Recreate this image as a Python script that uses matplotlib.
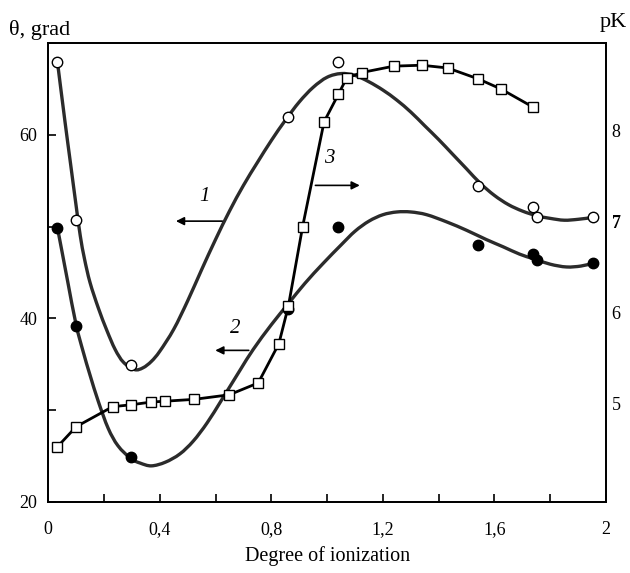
import matplotlib.pyplot as plt
from matplotlib.patches import PathPatch
from matplotlib.path import Path
from matplotlib.ticker import MultipleLocator

plt.rcParams["font.family"] = ["Liberation Serif", "DejaVu Serif"]

# curve 1: contact angle (open circles), left axis
theta1_x = [0.033, 0.10, 0.296, 0.861, 1.040, 1.542, 1.739, 1.753, 1.952]
theta1_y = [68.0, 50.7, 34.9, 62.0, 68.0, 54.4, 52.1, 51.0, 51.0]
# trend line of curve 1
trend1_x = [0.033, 0.06, 0.08, 0.10, 0.115, 0.13, 0.15, 0.18, 0.21, 0.24,
            0.27, 0.31, 0.34, 0.37, 0.40, 0.45, 0.50, 0.55, 0.60, 0.65,
            0.70, 0.75, 0.80, 0.85, 0.90, 0.95, 1.00, 1.05, 1.10, 1.15,
            1.20, 1.25, 1.30, 1.35, 1.40, 1.45, 1.50, 1.55, 1.60, 1.65,
            1.70, 1.75, 1.80, 1.85, 1.90, 1.952]
trend1_y = [68.0, 61.5, 56.9, 52.3, 49.0, 46.5, 43.9, 41.1, 38.7, 36.6,
            35.2, 34.4, 34.6, 35.3, 36.4, 38.8, 41.9, 45.3, 48.6, 51.7,
            54.5, 57.0, 59.4, 61.6, 63.6, 65.2, 66.3, 66.7, 66.5, 65.8,
            64.9, 63.8, 62.5, 61.0, 59.5, 57.9, 56.3, 54.7, 53.4, 52.4,
            51.7, 51.2, 50.9, 50.7, 50.8, 51.0]

# curve 2: contact angle (filled circles), left axis
theta2_x = [0.033, 0.10, 0.296, 0.861, 1.040, 1.542, 1.739, 1.753, 1.952]
theta2_y = [49.9, 39.2, 24.9, 41.0, 50.0, 48.0, 47.0, 46.4, 46.0]
trend2_x = [0.033, 0.05, 0.07, 0.10, 0.125, 0.15, 0.18, 0.215, 0.25, 0.296,
            0.33, 0.37, 0.42, 0.472, 0.52, 0.57, 0.622, 0.687, 0.735, 0.80,
            0.861, 0.92, 0.986, 1.05, 1.10, 1.15, 1.20, 1.25, 1.30, 1.357,
            1.43, 1.50, 1.57, 1.631, 1.69, 1.739, 1.80, 1.858, 1.91, 1.952]
trend2_y = [49.9, 47.2, 44.0, 39.3, 36.4, 33.8, 30.9, 28.0, 26.1, 24.7,
            24.2, 23.9, 24.3, 25.2, 26.6, 28.6, 31.1, 34.3, 36.6, 39.3,
            41.6, 43.8, 46.0, 48.0, 49.5, 50.6, 51.3, 51.6, 51.6, 51.3,
            50.5, 49.6, 48.6, 47.8, 47.0, 46.5, 45.9, 45.6, 45.7, 46.0]

# curve 3: pK (squares), right axis
pk_x = [0.033, 0.10, 0.231, 0.296, 0.368, 0.42, 0.523, 0.649, 0.753, 0.827,
        0.861, 0.912, 0.989, 1.040, 1.070, 1.124, 1.239, 1.339, 1.432,
        1.542, 1.623, 1.739]
pk_y = [4.53, 4.75, 4.97, 4.99, 5.02, 5.03, 5.05, 5.10, 5.23, 5.66,
        6.07, 6.94, 8.09, 8.39, 8.57, 8.63, 8.70, 8.71, 8.68,
        8.56, 8.45, 8.25]

x_ticks = [0, 0.4, 0.8, 1.2, 1.6, 2]
x_tick_labels = ["0", "0,4", "0,8", "1,2", "1,6", "2"]
left_ticks = [20, 40, 60]
right_ticks = [5, 6, 7, 8]


def smooth_path(xs, ys):
    """Cubic Bezier path through the read points (Catmull-Rom handles)."""
    pts = list(zip(xs, ys))
    n = len(pts)
    verts = [pts[0]]
    codes = [Path.MOVETO]
    for i in range(n - 1):
        p0 = pts[max(i - 1, 0)]
        p1 = pts[i]
        p2 = pts[i + 1]
        p3 = pts[min(i + 2, n - 1)]
        c1 = (p1[0] + (p2[0] - p0[0]) / 6, p1[1] + (p2[1] - p0[1]) / 6)
        c2 = (p2[0] - (p3[0] - p1[0]) / 6, p2[1] - (p3[1] - p1[1]) / 6)
        verts += [c1, c2, p2]
        codes += [Path.CURVE4] * 3
    return Path(verts, codes)


fig = plt.figure(figsize=(6.3, 5.73), dpi=100)
ax = fig.add_axes([0.0765, 0.1246, 0.8855, 0.7998])
ax2 = ax.twinx()

line_col = "#2b2b2b"
for tx, ty in ((trend1_x, trend1_y), (trend2_x, trend2_y)):
    ax.add_patch(PathPatch(smooth_path(tx, ty), fill=False, edgecolor=line_col,
                           lw=2.4, capstyle="round", zorder=2))
ax.plot(theta1_x, theta1_y, "o", ms=7.5, mfc="white", mec="black", mew=1.0, zorder=4)
ax.plot(theta2_x, theta2_y, "o", ms=7.5, mfc="black", mec="black", zorder=4)

ax2.plot(pk_x, pk_y, "-s", color="black", lw=2.0, ms=7, mfc="white",
         mec="black", mew=1.0, zorder=3)

ax.set_xlim(0, 2)
ax.set_ylim(20, 70)
ax2.set_ylim(3.93, 8.95)

ax.set_xticks(x_ticks)
ax.set_xticklabels(x_tick_labels)
ax.xaxis.set_minor_locator(MultipleLocator(0.2))
ax.set_yticks(left_ticks)
ax.yaxis.set_minor_locator(MultipleLocator(10))
ax.tick_params(axis="both", which="both", direction="in", labelsize=13,
               top=False, right=False, width=1.2, length=6)
ax.tick_params(axis="x", pad=14)
ax.tick_params(axis="y", pad=8)

ax2.set_yticks(right_ticks)
ax2.tick_params(axis="y", length=0, labelsize=13, pad=4)
for lab in ax2.get_yticklabels():
    if lab.get_text() == "7":
        lab.set_fontweight("bold")

for a in (ax, ax2):
    for s in a.spines.values():
        s.set_linewidth(1.3)

ax.set_xlabel("Degree of ionization", fontsize=14.5, labelpad=6)
fig.text(0.015, 0.948, "θ, grad", fontsize=16, ha="left", va="center")
fig.text(0.995, 0.96, "pK", fontsize=16, ha="right", va="center")

# curve labels with arrows
arrow = dict(arrowstyle="-|>", color="black", lw=1.2, mutation_scale=12)
ax.annotate("", xy=(0.448, 50.6), xytext=(0.634, 50.6), arrowprops=arrow)
ax.text(0.559, 53.3, "1", fontsize=15, style="italic", ha="center", va="center")
ax.annotate("", xy=(0.589, 36.5), xytext=(0.729, 36.5), arrowprops=arrow)
ax.text(0.67, 38.9, "2", fontsize=15, style="italic", ha="center", va="center")
ax.annotate("", xy=(1.127, 54.5), xytext=(0.948, 54.5), arrowprops=arrow)
ax.text(1.008, 57.4, "3", fontsize=15, style="italic", ha="center", va="center")

fig.savefig("out.png", dpi=100)
